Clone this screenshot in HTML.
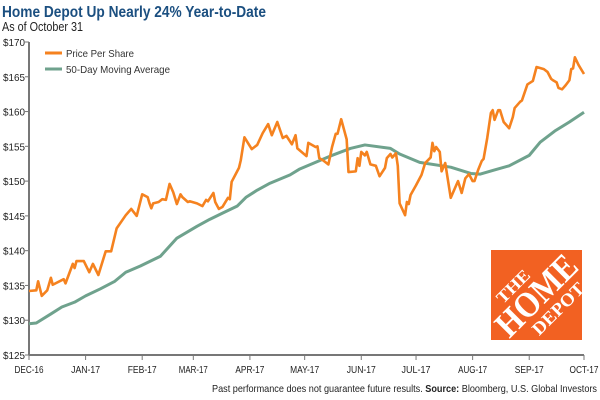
<!DOCTYPE html>
<html><head><meta charset="utf-8"><style>
body{margin:0;background:#fff;font-family:"Liberation Sans",sans-serif;}
#wrap{position:relative;width:600px;height:400px;overflow:hidden;}
</style></head><body>
<div id="wrap">
<svg id="chart" width="600" height="400">
<text x="2" y="17" font-size="15.5" font-weight="bold" fill="#1b4f80" textLength="264" lengthAdjust="spacingAndGlyphs">Home Depot Up Nearly 24% Year-to-Date</text>
<text x="2" y="31" font-size="12.5" fill="#222" textLength="81" lengthAdjust="spacingAndGlyphs">As of October 31</text>
<g id="axes"></g>
<g>
<line x1="45" y1="53" x2="62" y2="53" stroke="#f5821f" stroke-width="3"/>
<text x="66" y="57" font-size="10.5" fill="#333" textLength="68" lengthAdjust="spacingAndGlyphs">Price Per Share</text>
<line x1="45" y1="69" x2="62" y2="69" stroke="#6fa28d" stroke-width="3"/>
<text x="66" y="73" font-size="10.5" fill="#333" textLength="104" lengthAdjust="spacingAndGlyphs">50-Day Moving Average</text>
</g>
<g>
<rect x="491" y="250" width="91" height="90" fill="#f26122"/>
<g transform="translate(537,296) rotate(-45)" fill="#fff" font-family="Liberation Serif,serif" font-weight="bold" text-anchor="middle">
<text x="-10" y="-18" font-size="17" textLength="40" lengthAdjust="spacingAndGlyphs">THE</text>
<text x="0" y="11" font-size="36" textLength="100" lengthAdjust="spacingAndGlyphs">HOME</text>
<text x="6" y="30" font-size="18" textLength="66" lengthAdjust="spacingAndGlyphs">DEPOT</text>
</g>
</g>
<g id="series"></g>
<text x="597" y="392" font-size="10.5" fill="#222" text-anchor="end" textLength="385" lengthAdjust="spacingAndGlyphs">Past performance does not guarantee future results.  <tspan font-weight="bold">Source:</tspan> Bloomberg, U.S. Global Investors</text>
</svg>
</div>
<script>
const monthLabels=["DEC-16","JAN-17","FEB-17","MAR-17","APR-17","MAY-17","JUN-17","JUL-17","AUG-17","SEP-17","OCT-17"];
const monthDays=[0,31,62,90,121,151,182,212,243,274,304];
const yTicks=[125,130,135,140,145,150,155,160,165,170];
const priceDays=[0,4,5,7,10,12,13,19,20,24,25,26,30,33,35,38,42,45,47,48,53,56,59,62,65,66,67,68,71,73,75,77,79,81,83,84,87,88,92,95,97,98,101,102,104,106,109,110,111,113,115,116,118,122,125,128,131,133,136,139,141,144,146,147,152,153,157,158,159,161,164,166,168,169,171,174,175,179,180,181,182,184,185,187,190,192,195,196,198,199,201,202,203,206,207,208,209,212,215,217,220,221,222,223,225,226,228,231,234,235,237,239,241,243,244,246,248,249,251,253,254,255,257,258,260,262,263,265,266,269,270,273,276,277,278,282,284,286,287,289,290,292,294,296,297,298,299,301,304];
const priceVals=[134.2,134.3,135.6,133.5,134.3,136.1,135.1,135.9,135.3,138.1,137.5,138.5,138.5,136.9,138.1,136.5,139.9,139.9,142.1,143.2,145.1,146.0,145.0,148.1,147.7,146.8,146.1,146.8,147.0,147.4,147.3,149.6,148.4,146.7,148.1,147.7,147.0,147.1,146.8,146.4,147.3,147.1,148.3,147.0,146.0,146.3,147.6,147.4,149.9,150.9,151.9,153.0,156.3,154.6,155.2,156.9,158.2,156.6,158.5,156.2,156.5,155.3,156.6,154.7,153.6,155.5,154.9,155.0,153.3,153.0,152.4,154.9,156.8,156.8,158.9,156.0,151.3,151.4,153.3,152.2,154.2,153.7,154.2,152.4,152.2,150.7,151.9,153.3,153.9,153.4,154.0,152.2,146.8,145.1,147.0,146.7,148.0,149.4,150.9,152.6,153.4,155.5,154.3,154.9,154.2,151.4,152.6,147.6,149.4,150.0,148.3,150.4,151.0,150.0,150.0,151.6,152.9,153.2,156.2,159.8,160.2,158.8,160.2,160.2,158.5,157.9,157.6,159.2,160.5,161.4,161.6,163.9,164.4,165.4,166.4,166.1,165.7,164.7,164.5,164.2,163.4,163.2,163.8,164.5,166.1,166.2,167.8,166.7,165.4];
const maDays=[0,4,12,18,25,31,39,47,53,61,72,81,92,99,106,114,119,125,132,143,148,165,176,184,198,203,214,231,242,247,255,263,274,280,288,296,304];
const maVals=[129.5,129.6,130.9,131.9,132.6,133.5,134.5,135.6,136.9,137.8,139.2,141.8,143.5,144.5,145.4,146.4,147.7,148.7,149.7,150.9,151.7,153.6,154.7,155.2,154.7,153.9,152.7,152.0,151.1,151.0,151.6,152.2,153.7,155.6,157.2,158.5,159.9];

const NS="http://www.w3.org/2000/svg";
const L=29,R=584,T=42,B=355;
const xS=d=>L+d*(R-L)/304;
const yS=v=>B-(v-125)*(B-T)/45;
function mk(tag,attrs,parent){const e=document.createElementNS(NS,tag);for(const k in attrs)e.setAttribute(k,attrs[k]);parent.appendChild(e);return e;}
const axes=document.getElementById('axes');
let e=mk('line',{x1:L,y1:T,x2:L,y2:B,stroke:'#777','stroke-width':2},axes);


e=mk('line',{x1:L,y1:B,x2:R,y2:B,stroke:'#777','stroke-width':2},axes);


yTicks.forEach(v=>{
  const t=mk('line',{x1:L-4,y1:yS(v),x2:L,y2:yS(v),stroke:'#777','stroke-width':1},axes);
  
  
  const tx=mk('text',{x:L-4,y:yS(v)+4,'font-size':10.5,fill:'#222','text-anchor':'end',textLength:22,lengthAdjust:'spacingAndGlyphs'},axes);
  tx.textContent='$'+v;
  
  
});
monthDays.forEach((d,i)=>{
  const t=mk('line',{x1:xS(d),y1:B,x2:xS(d),y2:B+5,stroke:'#777','stroke-width':1},axes);
  
  
  const tx=mk('text',{x:xS(d),y:B+18,'font-size':10.5,fill:'#222','text-anchor':'middle',textLength:29,lengthAdjust:'spacingAndGlyphs'},axes);
  tx.textContent=monthLabels[i];
  
  
});
const series=document.getElementById('series');
const ma=mk('polyline',{points:maDays.map((d,i)=>xS(d)+','+yS(maVals[i])).join(' '),fill:'none',stroke:'#6fa28d','stroke-width':3,'stroke-linejoin':'round'},series);


const pr=mk('polyline',{points:priceDays.map((d,i)=>xS(d)+','+yS(priceVals[i])).join(' '),fill:'none',stroke:'#f5821f','stroke-width':2.6,'stroke-linejoin':'round'},series);


</script>
</body></html>
